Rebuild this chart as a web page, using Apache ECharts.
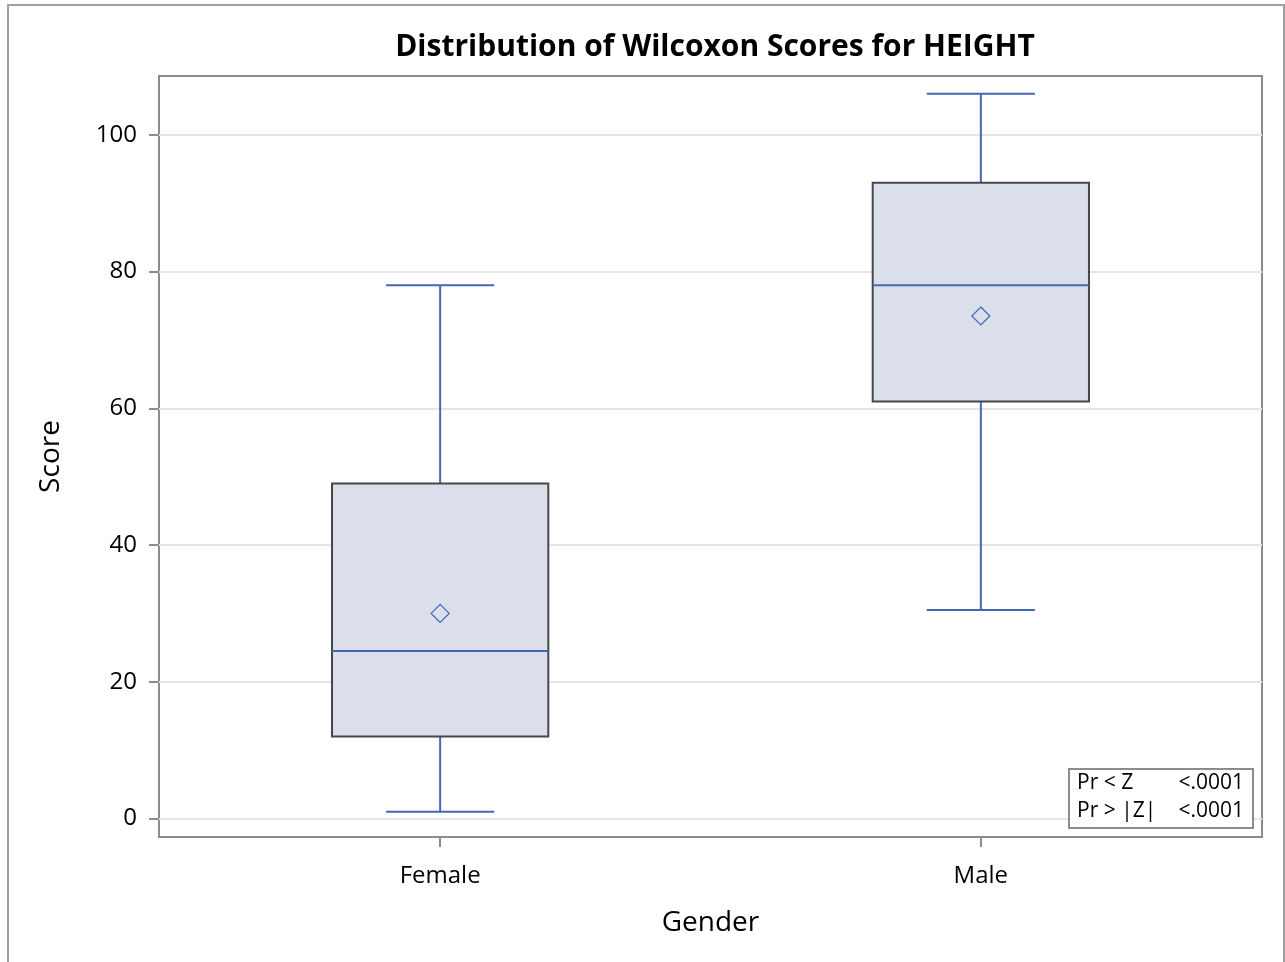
<!DOCTYPE html>
<html>
<head>
<meta charset="utf-8">
<script src="https://cdn.jsdelivr.net/npm/echarts@6/dist/echarts.min.js"></script>
<style>
  html, body { margin: 0; padding: 0; background: #fff; }
  #chart { width: 1285px; height: 962px; }
</style>
</head>
<body>
<div id="chart"></div>
<script>
// data
const categories = ['Female', 'Male']
const whiskerLow = [1, 30.5]
const q1 = [12, 61]
const median = [24.5, 78]
const q3 = [49, 93]
const whiskerHigh = [78, 106]
const means = [30, 73.5]
const yTicks = [0, 20, 40, 60, 80, 100]
const testRows = [['Pr < Z', '<.0001'], ['Pr > |Z|', '<.0001']]

const font = '"Open Sans", "Noto Sans", sans-serif'
const blue = '#4467b8'

const boxData = categories.map((c, i) => [i, whiskerLow[i], q1[i], median[i], q3[i], whiskerHigh[i], means[i]])

function renderBox(params, api) {
  const x = api.value(0)
  const lo = api.coord([x, api.value(1)])
  const b1 = api.coord([x, api.value(2)])
  const md = api.coord([x, api.value(3)])
  const b3 = api.coord([x, api.value(4)])
  const hi = api.coord([x, api.value(5)])
  const mn = api.coord([x, api.value(6)])
  const unit = api.size([1, 0])[0]
  const bw = unit * 0.2
  const cw = unit * 0.1
  const cx = lo[0]
  const line = (x1, y1, x2, y2, color) => ({
    type: 'line',
    shape: { x1, y1, x2, y2 },
    style: { stroke: color, lineWidth: 2 }
  })
  const d = 9
  return {
    type: 'group',
    children: [
      line(cx, lo[1], cx, b1[1], blue),
      line(cx, hi[1], cx, b3[1], blue),
      line(cx - cw, lo[1], cx + cw, lo[1], blue),
      line(cx - cw, hi[1], cx + cw, hi[1], blue),
      {
        type: 'rect',
        shape: { x: cx - bw, y: b3[1], width: bw * 2, height: b1[1] - b3[1] },
        style: { fill: '#dadfeb', stroke: '#474747', lineWidth: 2 }
      },
      line(cx - bw, md[1], cx + bw, md[1], blue),
      {
        type: 'polygon',
        shape: { points: [[mn[0], mn[1] - d], [mn[0] + d, mn[1]], [mn[0], mn[1] + d], [mn[0] - d, mn[1]]] },
        style: { fill: 'none', stroke: blue, lineWidth: 1.2 }
      }
    ]
  }
}

const chart = echarts.init(document.getElementById('chart'))
const option = {
  animation: false,
  title: {
    text: 'Distribution of Wilcoxon Scores for HEIGHT',
    left: 710,
    textAlign: 'center',
    top: 27,
    textStyle: { fontFamily: font, fontSize: 30, fontWeight: 'bold', color: '#000' }
  },
  grid: {
    left: 159, right: 23, top: 76, bottom: 125,
    show: true, borderColor: '#8c8c8c', borderWidth: 2
  },
  xAxis: {
    type: 'value',
    min: -0.52,
    max: 1.52,
    name: 'Gender',
    nameLocation: 'middle',
    nameGap: 72,
    nameTextStyle: { fontFamily: font, fontSize: 28, color: '#000' },
    axisLine: { show: false, onZero: false },
    axisTick: { show: true, length: 10, lineStyle: { color: '#8c8c8c', width: 2 }, customValues: [0, 1] },
    axisLabel: {
      customValues: [0, 1],
      formatter: v => categories[Math.round(v)],
      fontFamily: font, fontSize: 24, color: '#000', margin: 27
    },
    splitLine: { show: false }
  },
  yAxis: {
    type: 'value',
    min: -2.7,
    max: 108.6,
    name: 'Score',
    nameLocation: 'middle',
    nameGap: 94,
    nameTextStyle: { fontFamily: font, fontSize: 28, color: '#000' },
    axisLine: { show: false, onZero: false },
    axisTick: { show: true, length: 10, lineStyle: { color: '#8c8c8c', width: 2 }, customValues: yTicks },
    axisLabel: { customValues: yTicks, fontFamily: font, fontSize: 24, color: '#000', margin: 22 },
    splitLine: { show: true, lineStyle: { color: '#e6e6e6', width: 2 } }
  },
  series: [{
    type: 'custom',
    renderItem: renderBox,
    encode: { x: 0, y: [1, 2, 3, 4, 5, 6] },
    data: boxData
  }],
  graphic: [
    {
      type: 'rect',
      shape: { x: 8, y: 5, width: 1276, height: 970 },
      style: { fill: 'none', stroke: '#a0a0a0', lineWidth: 2 },
      silent: true
    },
    {
      type: 'rect',
      shape: { x: 1069, y: 769, width: 184, height: 59 },
      style: { fill: '#fff', stroke: '#8c8c8c', lineWidth: 2 },
      z: 10
    },
    ...testRows.flatMap((r, i) => [
      {
        type: 'text', left: 1077, top: 773 + i * 28, z: 11,
        style: { text: r[0], font: '21px ' + font, fill: '#000' }
      },
      {
        type: 'text', right: 1285 - 1244, top: 773 + i * 28, z: 11,
        style: { text: r[1], font: '21px ' + font, fill: '#000' }
      }
    ])
  ]
}
chart.setOption(option)
</script>
</body>
</html>
